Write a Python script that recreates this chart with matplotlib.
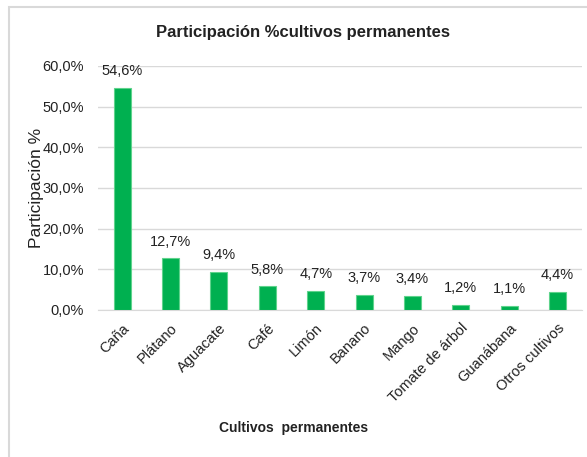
import matplotlib
matplotlib.use("Agg")
import matplotlib.pyplot as plt
from matplotlib.patches import Rectangle
from matplotlib.ticker import FuncFormatter

plt.rcParams['font.family'] = ['Liberation Sans', 'DejaVu Sans']

categories = ["Caña", "Plátano", "Aguacate", "Café", "Limón", "Banano",
              "Mango", "Tomate de árbol", "Guanábana", "Otros cultivos"]
values = [54.6, 12.7, 9.4, 5.8, 4.7, 3.7, 3.4, 1.2, 1.1, 4.4]
yticks = [0, 10, 20, 30, 40, 50, 60]

fig = plt.figure(figsize=(5.87, 4.57), dpi=100)
fig.patches.append(Rectangle((9/587, -0.05), 1.2, 1 - 7/457 + 0.05,
                             transform=fig.transFigure, fill=False,
                             edgecolor='#d9d9d9', linewidth=1.5))

ax = fig.add_axes([0.167, 0.3217, 0.824, 0.5339])
x = range(len(categories))
ax.bar(x, values, width=0.35, color='#00b050', edgecolor='#5fd38c', linewidth=0.8, zorder=3)
for xi, v in zip(x, values):
    ax.text(xi, v + 2.4, f"{v:.1f}%".replace('.', ','), ha='center', va='bottom',
            fontsize=10.5, color='#222222')

ax.set_xlim(-0.5, len(categories) - 0.5)
ax.set_ylim(0, 60)
ax.set_yticks(yticks)
ax.yaxis.set_major_formatter(FuncFormatter(lambda v, p: f"{v:.1f}%".replace('.', ',')))
ax.grid(axis='y', color='#d9d9d9', linewidth=1, zorder=0)
for s in ['top', 'right', 'left']:
    ax.spines[s].set_visible(False)
ax.spines['bottom'].set_color('#d9d9d9')
ax.tick_params(axis='both', length=0, colors='#222222')
ax.tick_params(axis='y', pad=10, labelsize=10.5)
ax.tick_params(axis='x', pad=8, labelsize=10.5)
ax.set_xticks(list(x))
ax.set_xticklabels(categories, rotation=45, ha='right', rotation_mode='anchor')
ax.set_ylabel("Participación %", fontsize=12.5, color='#222222', va='center')
ax.yaxis.set_label_coords(-0.128, 0.5)
ax.set_xlabel("Cultivos  permanentes", fontsize=10, fontweight='bold', color='#222222', va='center')
ax.xaxis.set_label_coords(0.405, -0.4836)
fig.text(0.517, 1 - 33/457, "Participación %cultivos permanentes", ha='center', va='center',
         fontsize=12, fontweight='bold', color='#222222')

fig.savefig("out.png", dpi=100)
